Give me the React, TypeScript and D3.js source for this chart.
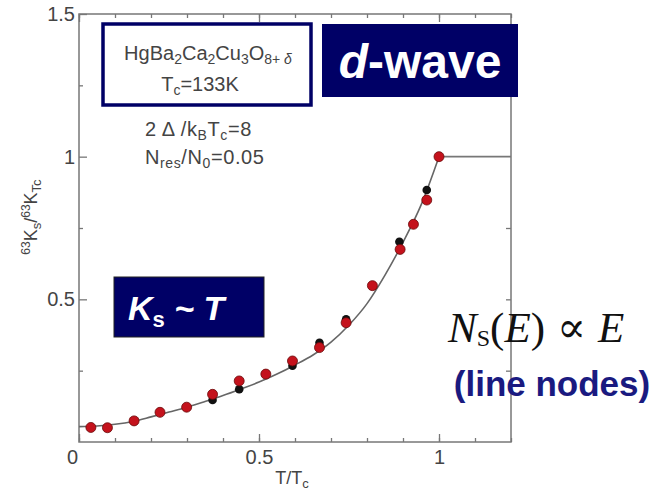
import { useEffect, useRef } from "react";
import * as d3 from "d3";

// reduced temperature / normalised Knight shift
const CURVE_T = [0, 0.05, 0.1, 0.15, 0.2, 0.25, 0.3, 0.35, 0.4, 0.45, 0.5, 0.55, 0.6, 0.65, 0.7, 0.75, 0.8, 0.85, 0.9, 0.95, 1.0];
const CURVE_K = [0.054, 0.056, 0.062, 0.072, 0.088, 0.105, 0.122, 0.142, 0.163, 0.186, 0.21, 0.238, 0.27, 0.305, 0.35, 0.41, 0.485, 0.585, 0.7, 0.83, 1.0];
const NORMAL_T = [1.0, 1.2];
const NORMAL_K = [1.0, 1.0];

const RED_T = [0.033, 0.079, 0.153, 0.225, 0.299, 0.371, 0.445, 0.519, 0.593, 0.668, 0.742, 0.815, 0.892, 0.929, 0.966, 1.0];
const RED_K = [0.051, 0.05, 0.074, 0.104, 0.122, 0.167, 0.214, 0.238, 0.284, 0.331, 0.418, 0.548, 0.675, 0.763, 0.848, 1.0];
const BLACK_T = [0.371, 0.445, 0.593, 0.668, 0.742, 0.89, 0.966];
const BLACK_K = [0.147, 0.185, 0.267, 0.348, 0.43, 0.702, 0.883];

const X_MAJOR = [0, 0.5, 1];
const X_MINOR = [0, 0.1, 0.2, 0.3, 0.4, 0.5, 0.6, 0.7, 0.8, 0.9, 1, 1.1, 1.2];
const Y_MAJOR = [0, 0.5, 1, 1.5];
const Y_MINOR = [0.25, 0.75, 1.25];
const Y_RIGHT = [0.25, 0.5, 0.75, 1.25];

const W = 668;
const H = 493;
const PLOT = { left: 79, right: 511, top: 14, bottom: 442 };
const NAVY = "#000066";
const AXIS = "#777";
const TXT = "#444";
const FONT = "'Liberation Sans', Arial, sans-serif";

export default function App() {
  const axesRef = useRef<SVGGElement>(null);

  const x = d3.scaleLinear().domain([0, 1.2]).range([PLOT.left, PLOT.right]);
  const y = d3.scaleLinear().domain([0, 1.5]).range([PLOT.bottom, PLOT.top]);

  useEffect(() => {
    const g = d3.select(axesRef.current);
    g.selectAll("*").remove();

    const bottomMinor = d3.axisBottom(x).tickValues(X_MINOR).tickSize(-4).tickFormat(() => "");
    const bottomMajor = d3.axisBottom(x).tickValues(X_MAJOR).tickSize(-8).tickPadding(8)
      .tickFormat((d) => d3.format("")(d as number));
    const topMinor = d3.axisTop(x).tickValues(X_MINOR).tickSize(-4).tickFormat(() => "");
    const topMajor = d3.axisTop(x).tickValues(X_MAJOR).tickSize(-8).tickFormat(() => "");
    const leftMinor = d3.axisLeft(y).tickValues(Y_MINOR).tickSize(-4).tickFormat(() => "");
    const leftMajor = d3.axisLeft(y).tickValues(Y_MAJOR.slice(1)).tickSize(-8).tickPadding(4)
      .tickFormat((d) => d3.format("")(d as number));
    const rightMinor = d3.axisRight(y).tickValues(Y_RIGHT).tickSize(-5).tickFormat(() => "");

    g.append("g").attr("transform", `translate(0,${PLOT.bottom})`).call(bottomMinor);
    g.append("g").attr("class", "lab").attr("transform", `translate(0,${PLOT.bottom})`).call(bottomMajor);
    g.append("g").attr("transform", `translate(0,${PLOT.top})`).call(topMinor);
    g.append("g").attr("transform", `translate(0,${PLOT.top})`).call(topMajor);
    g.append("g").attr("transform", `translate(${PLOT.left},0)`).call(leftMinor);
    g.append("g").attr("class", "lab").attr("transform", `translate(${PLOT.left},0)`).call(leftMajor);
    g.append("g").attr("transform", `translate(${PLOT.right},0)`).call(rightMinor);

    g.selectAll(".domain").remove();
    g.selectAll(".tick line").attr("stroke", AXIS).attr("stroke-width", 1.3);
    g.selectAll(".lab text")
      .attr("fill", TXT)
      .attr("font-family", FONT)
      .attr("font-size", 20);
    // the "0" label sits a little left of its tick
    g.selectAll(".lab text").filter((d) => d === 0).attr("dx", -7);
  }, []);

  const curve = d3.line<number>()
    .x((_, i) => x(CURVE_T[i]))
    .y((d) => y(d))
    .curve(d3.curveMonotoneX);
  const normal = d3.line<number>()
    .x((_, i) => x(NORMAL_T[i]))
    .y((d) => y(d));

  return (
    <div style={{ position: "absolute", left: 0, top: 0 }}>
      <svg width={W} height={H} style={{ display: "block", background: "#fff" }}>
        <rect
          x={PLOT.left}
          y={PLOT.top}
          width={PLOT.right - PLOT.left}
          height={PLOT.bottom - PLOT.top}
          fill="none"
          stroke={AXIS}
          strokeWidth={1.5}
        />
        <g ref={axesRef} />

        <path d={curve(CURVE_K) ?? ""} fill="none" stroke="#666" strokeWidth={1.6} />
        <path d={normal(NORMAL_K) ?? ""} fill="none" stroke="#777" strokeWidth={1.6} />

        {BLACK_T.map((t, i) => (
          <circle key={"b" + i} cx={x(t)} cy={y(BLACK_K[i])} r={4.3} fill="#111" />
        ))}
        {RED_T.map((t, i) => (
          <circle key={"r" + i} cx={x(t)} cy={y(RED_K[i])} r={5} fill="#c4121c" stroke="#6a0a0a" strokeWidth={0.8} />
        ))}

        {/* axis titles */}
        <text x={292} y={484} textAnchor="middle" fontFamily={FONT} fontSize={18} fill={TXT}>
          T/T<tspan fontSize={13} dy={4}>c</tspan>
        </text>
        <text
          transform="translate(37,217) rotate(-90)"
          textAnchor="middle"
          fontFamily={FONT}
          fontSize={18}
          fill={TXT}
        >
          <tspan fontSize={12} dy={-7}>63</tspan>
          <tspan dy={7}>K</tspan>
          <tspan fontSize={13} dy={4}>s</tspan>
          <tspan dy={-4}>/</tspan>
          <tspan fontSize={12} dy={-7}>63</tspan>
          <tspan dy={7}>K</tspan>
          <tspan fontSize={13} dy={4}>Tc</tspan>
        </text>

        {/* material box */}
        <rect x={103} y={24} width={208} height={81} fill="#fff" stroke={NAVY} strokeWidth={3.5} />
        <text x={208} y={60} textAnchor="middle" fontFamily={FONT} fontSize={20} fill={TXT}>
          HgBa<tspan fontSize={14} dy={4}>2</tspan>
          <tspan dy={-4}>Ca</tspan>
          <tspan fontSize={14} dy={4}>2</tspan>
          <tspan dy={-4}>Cu</tspan>
          <tspan fontSize={14} dy={4}>3</tspan>
          <tspan dy={-4}>O</tspan>
          <tspan fontSize={14} dy={4}>8+ </tspan>
          <tspan fontSize={14} fontStyle="italic">δ</tspan>
        </text>
        <text x={200} y={91} textAnchor="middle" fontFamily={FONT} fontSize={20} fill={TXT}>
          T<tspan fontSize={14} dy={4}>c</tspan>
          <tspan dy={-4}>=133K</tspan>
        </text>

        <text x={145} y={136} fontFamily={FONT} fontSize={20} letterSpacing={0.6} fill={TXT}>
          2 Δ /k<tspan fontSize={14} dy={4}>B</tspan>
          <tspan dy={-4}>T</tspan>
          <tspan fontSize={14} dy={4}>c</tspan>
          <tspan dy={-4}>=8</tspan>
        </text>
        <text x={145} y={164} fontFamily={FONT} fontSize={20} letterSpacing={0.6} fill={TXT}>
          N<tspan fontSize={14} dy={4}>res</tspan>
          <tspan dy={-4}>/N</tspan>
          <tspan fontSize={14} dy={4}>0</tspan>
          <tspan dy={-4}>=0.05</tspan>
        </text>

        {/* d-wave label */}
        <rect x={322} y={24} width={196} height={73} fill={NAVY} />
        <text x={420} y={78} textAnchor="middle" fontFamily={FONT} fontWeight="bold" fontSize={48} fill="#fff">
          <tspan fontStyle="italic">d</tspan>-wave
        </text>

        {/* Ks ~ T label */}
        <rect x={114} y={277} width={150} height={60} fill={NAVY} stroke="#222" strokeWidth={1} />
        <text x={128} y={320} fontFamily={FONT} fontWeight="bold" fontStyle="italic" fontSize={34} fill="#fff">
          K<tspan fontSize={22} dy={7} fontStyle="normal">s</tspan>
          <tspan dy={-7}> ~ T</tspan>
        </text>

        {/* density of states note */}
        <text x={448} y={342} fontFamily="'Liberation Serif', 'DejaVu Serif', serif" fontSize={43} fill="#111">
          <tspan fontStyle="italic">N</tspan>
          <tspan fontSize={24} dy={4}>S</tspan>
          <tspan dy={-4}>(</tspan>
          <tspan fontStyle="italic">E</tspan>
          <tspan>)</tspan>
          <tspan dx={12}>∝</tspan>
          <tspan dx={12} fontStyle="italic">E</tspan>
        </text>
        <text x={552} y={396} textAnchor="middle" fontFamily={FONT} fontWeight="bold" fontSize={35} fill="#1a1a80">
          (line nodes)
        </text>
      </svg>
    </div>
  );
}
